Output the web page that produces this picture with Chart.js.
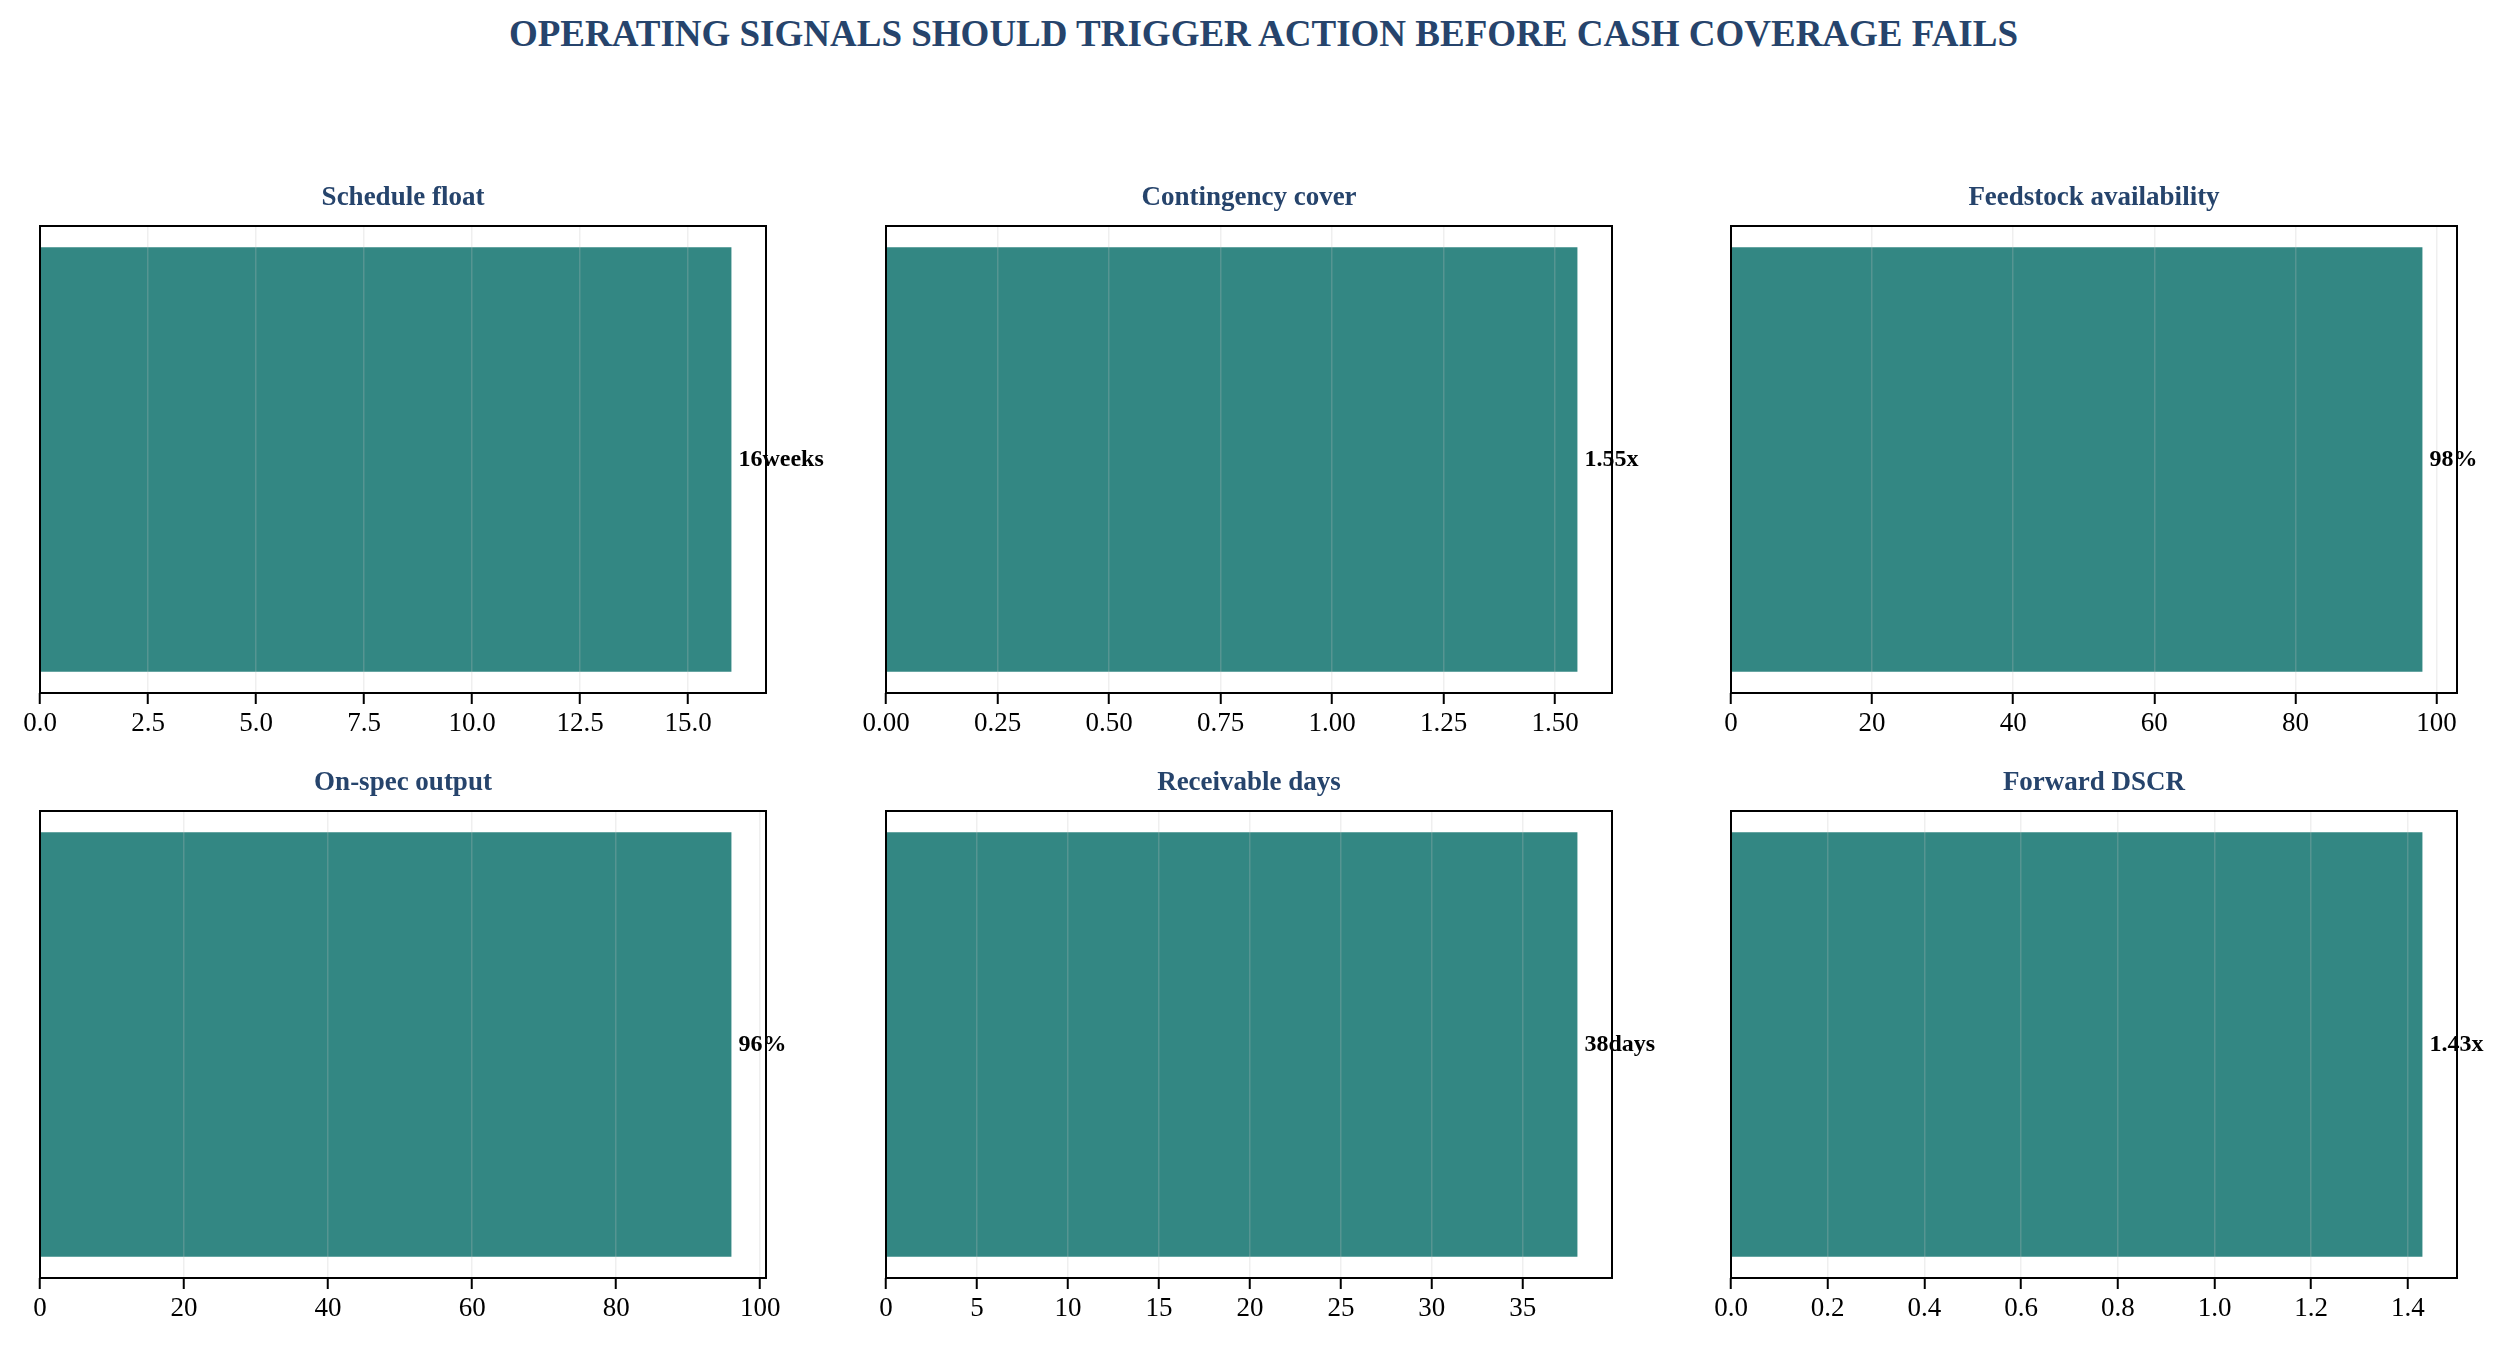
<!DOCTYPE html>
<html>
<head>
<meta charset="utf-8">
<script src="https://cdn.jsdelivr.net/npm/chart.js@4.4.1/dist/chart.umd.min.js"></script>
<style>
  body { margin: 0; background: #fff; }
  #wrap { position: relative; width: 2504px; height: 1346px; background: #fff; overflow: hidden; }
  #title { position: absolute; left: 0; width: 2527px; top: 12px; text-align: center;
           font: bold 37px 'Liberation Serif', 'Times New Roman', serif; color: #26446c; line-height: 44px; }
  canvas { position: absolute; }
</style>
</head>
<body>
<div id="wrap">
  <div id="title">OPERATING SIGNALS SHOULD TRIGGER ACTION BEFORE CASH COVERAGE FAILS</div>
</div>
<script>
// data
const panelTitles = ['Schedule float', 'Contingency cover', 'Feedstock availability',
                     'On-spec output', 'Receivable days', 'Forward DSCR'];
const values = [16, 1.55, 98, 96, 38, 1.43];
const units = ['weeks', 'x', '%', '%', 'days', 'x'];
const tickLabels = [
  ['0.0', '2.5', '5.0', '7.5', '10.0', '12.5', '15.0'],
  ['0.00', '0.25', '0.50', '0.75', '1.00', '1.25', '1.50'],
  ['0', '20', '40', '60', '80', '100'],
  ['0', '20', '40', '60', '80', '100'],
  ['0', '5', '10', '15', '20', '25', '30', '35'],
  ['0.0', '0.2', '0.4', '0.6', '0.8', '1.0', '1.2', '1.4']
];

const FONT = "'Liberation Serif', 'Times New Roman', serif";
const barColor = '#338783';
const titleColor = '#26446c';

// panel boxes
const colLeft = [40, 885.5, 1731];
const rowTop = [226, 811];
const W = 726, H = 467;
const padL = 60, padR = 100, topSpace = 70, bottomSpace = 60;

// value labels + frame around the plot area
const boxPlugin = {
  id: 'box',
  afterDraw(chart) {
    const ctx = chart.ctx, a = chart.chartArea;
    const meta = chart.getDatasetMeta(0);
    const txt = chart.options.plugins.box.labels;
    ctx.save();
    ctx.font = 'bold 24px ' + FONT;
    ctx.fillStyle = '#000';
    ctx.textAlign = 'left';
    ctx.textBaseline = 'middle';
    meta.data.forEach((bar, i) => {
      ctx.fillText(txt[i], bar.x + 7, bar.y);
    });
    ctx.strokeStyle = '#000';
    ctx.lineWidth = 2;
    ctx.strokeRect(a.left, a.top, a.right - a.left, a.bottom - a.top);
    ctx.restore();
  }
};

const wrap = document.getElementById('wrap');

for (let i = 0; i < values.length; i++) {
  const L = colLeft[i % 3], T = rowTop[Math.floor(i / 3)];
  const cv = document.createElement('canvas');
  const cw = W + padL + padR, ch = H + topSpace + bottomSpace;
  cv.width = cw; cv.height = ch;
  cv.style.width = cw + 'px'; cv.style.height = ch + 'px';
  cv.style.left = (L - padL) + 'px';
  cv.style.top = (T - topSpace) + 'px';
  wrap.appendChild(cv);

  const ticks = tickLabels[i].map(Number);

  new Chart(cv, {
    type: 'bar',
    data: {
      labels: [panelTitles[i]],
      datasets: [{
        data: [values[i]],
        backgroundColor: barColor,
        borderWidth: 0,
        barPercentage: 0.909,
        categoryPercentage: 1
      }]
    },
    options: {
      indexAxis: 'y',
      responsive: false,
      animation: false,
      devicePixelRatio: 1,
      layout: { padding: { left: padL, right: padR, top: 0, bottom: 0 } },
      scales: {
        y: { display: false },
        x: {
          min: 0,
          max: values[i] * 1.05,
          afterBuildTicks: (s) => { s.ticks = ticks.map(v => ({ value: v })); },
          afterFit: (s) => { s.height = bottomSpace; },
          ticks: {
            autoSkip: false,
            maxRotation: 0,
            padding: 4,
            color: '#000',
            font: { family: FONT, size: 27 },
            callback: (v, idx) => tickLabels[i][idx]
          },
          grid: {
            z: 1,   // grid sits over the bars, like the reference
            color: 'rgba(190,190,190,0.25)',
            lineWidth: 1.5,
            tickColor: '#000',
            tickWidth: 2,
            tickLength: 11
          },
          border: { display: false }
        }
      },
      plugins: {
        legend: { display: false },
        tooltip: { enabled: false },
        title: {
          display: true,
          text: panelTitles[i],
          color: titleColor,
          font: { family: FONT, size: 27, weight: 'bold', lineHeight: 1.2 },
          padding: { top: 25.6, bottom: 12 }
        },
        box: { labels: [values[i] + units[i]] }
      }
    },
    plugins: [boxPlugin]
  });
}
</script>
</body>
</html>
